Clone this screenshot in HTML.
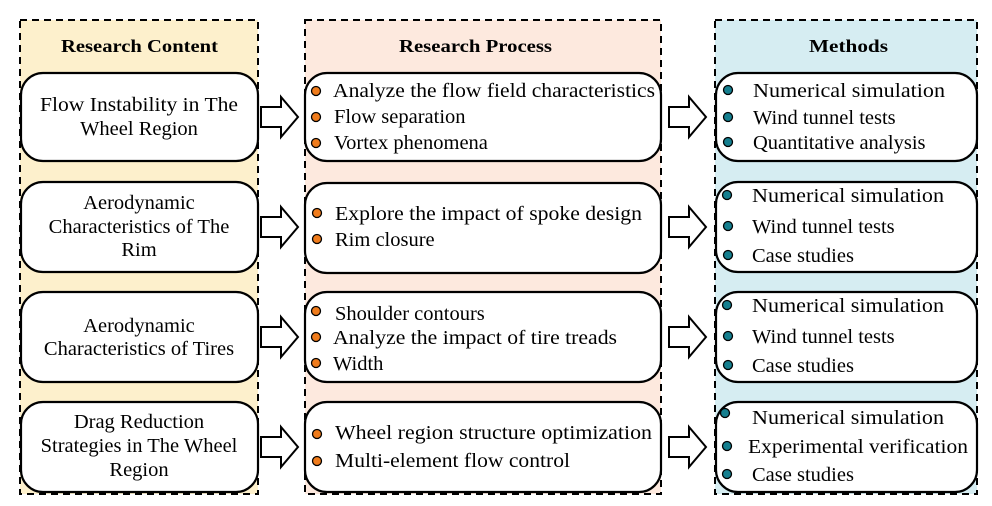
<!DOCTYPE html>
<html><head><meta charset="utf-8"><style>
html,body{margin:0;padding:0;background:#fff;}
svg{display:block}
text{font-family:"Liberation Serif",serif;font-size:20.5px;fill:#000}
.h{font-weight:bold;font-size:18px}
</style></head><body>
<svg width="992" height="506" viewBox="0 0 992 506" xmlns="http://www.w3.org/2000/svg">
<defs>
<g id="arr"><path d="M0,-10 L20,-10 L20,-20 L37,0 L20,20 L20,10 L0,10 Z" fill="#fff" stroke="#000" stroke-width="2"/></g>
</defs>
<rect x="20" y="20" width="238" height="474" fill="#fdf0cc" stroke="#000" stroke-width="2" stroke-dasharray="7,5"/>
<rect x="305" y="20" width="356" height="474" fill="#fde9de" stroke="#000" stroke-width="2" stroke-dasharray="7,5"/>
<rect x="715" y="20" width="262" height="474" fill="#d6edf2" stroke="#000" stroke-width="2" stroke-dasharray="7,5"/>
<text class="h" x="61" y="52" textLength="157" lengthAdjust="spacingAndGlyphs">Research Content</text>
<text class="h" x="399" y="52" textLength="153" lengthAdjust="spacingAndGlyphs">Research Process</text>
<text class="h" x="809" y="52" textLength="79" lengthAdjust="spacingAndGlyphs">Methods</text>
<g fill="#fff" stroke="#000" stroke-width="2.2">
<rect x="21" y="73" width="237" height="88" rx="22"/>
<rect x="21" y="182" width="237" height="90" rx="22"/>
<rect x="21" y="292" width="237" height="90" rx="22"/>
<rect x="21" y="402" width="237" height="90" rx="22"/>
<rect x="305" y="73" width="356" height="88" rx="22"/>
<rect x="305" y="183" width="356" height="90" rx="22"/>
<rect x="305" y="292" width="356" height="90" rx="22"/>
<rect x="305" y="402" width="356" height="90" rx="22"/>
<rect x="716" y="73" width="261" height="88" rx="22"/>
<rect x="716" y="182" width="261" height="90" rx="22"/>
<rect x="716" y="292" width="261" height="90" rx="22"/>
<rect x="716" y="402" width="261" height="90" rx="22"/>
</g>
<use href="#arr" x="261" y="117"/><use href="#arr" x="261" y="227"/><use href="#arr" x="261" y="337"/><use href="#arr" x="261" y="447"/>
<use href="#arr" x="669" y="117"/><use href="#arr" x="669" y="227"/><use href="#arr" x="669" y="337"/><use href="#arr" x="669" y="447"/>
<g text-anchor="middle">
<text x="139" y="111" textLength="198" lengthAdjust="spacingAndGlyphs">Flow Instability in The</text>
<text x="139" y="135">Wheel Region</text>
<text x="139" y="209">Aerodynamic</text>
<text x="139" y="233">Characteristics of The</text>
<text x="139" y="256">Rim</text>
<text x="139" y="332">Aerodynamic</text>
<text x="139" y="355">Characteristics of Tires</text>
<text x="139" y="428">Drag Reduction</text>
<text x="139" y="452">Strategies in The Wheel</text>
<text x="139" y="476">Region</text>
</g>
<g fill="#f07c1c" stroke="#000" stroke-width="1.3">
<circle cx="316" cy="91" r="4.5"/><circle cx="316" cy="117" r="4.5"/><circle cx="316" cy="143" r="4.5"/>
<circle cx="317" cy="213" r="4.5"/><circle cx="317" cy="239" r="4.5"/>
<circle cx="316" cy="311" r="4.5"/><circle cx="316" cy="337" r="4.5"/><circle cx="316" cy="363" r="4.5"/>
<circle cx="317" cy="434" r="4.5"/><circle cx="317" cy="461" r="4.5"/>
</g>
<text x="333" y="97" textLength="322" lengthAdjust="spacingAndGlyphs">Analyze the flow field characteristics</text>
<text x="334" y="123">Flow separation</text>
<text x="334" y="149">Vortex phenomena</text>
<text x="335" y="220" textLength="307" lengthAdjust="spacingAndGlyphs">Explore the impact of spoke design</text>
<text x="335" y="246">Rim closure</text>
<text x="335" y="320">Shoulder contours</text>
<text x="333" y="344" textLength="284" lengthAdjust="spacingAndGlyphs">Analyze the impact of tire treads</text>
<text x="333" y="370">Width</text>
<text x="335" y="439" textLength="317" lengthAdjust="spacingAndGlyphs">Wheel region structure optimization</text>
<text x="335" y="467" textLength="235" lengthAdjust="spacingAndGlyphs">Multi-element flow control</text>
<g fill="#157f8f" stroke="#000" stroke-width="1.3">
<circle cx="728" cy="90" r="4.5"/><circle cx="728" cy="117" r="4.5"/><circle cx="728" cy="142" r="4.5"/>
<circle cx="727" cy="195" r="4.5"/><circle cx="728" cy="226" r="4.5"/><circle cx="728" cy="255" r="4.5"/>
<circle cx="727" cy="305" r="4.5"/><circle cx="728" cy="336" r="4.5"/><circle cx="728" cy="365" r="4.5"/>
<circle cx="725" cy="413" r="4.5"/><circle cx="727" cy="446" r="4.5"/><circle cx="727" cy="474" r="4.5"/>
</g>
<text x="753" y="97" textLength="192" lengthAdjust="spacingAndGlyphs">Numerical simulation</text>
<text x="753" y="124">Wind tunnel tests</text>
<text x="753" y="149">Quantitative analysis</text>
<text x="752" y="202" textLength="192" lengthAdjust="spacingAndGlyphs">Numerical simulation</text>
<text x="752" y="233">Wind tunnel tests</text>
<text x="752" y="262">Case studies</text>
<text x="752" y="312" textLength="192" lengthAdjust="spacingAndGlyphs">Numerical simulation</text>
<text x="752" y="343">Wind tunnel tests</text>
<text x="752" y="372">Case studies</text>
<text x="752" y="424" textLength="192" lengthAdjust="spacingAndGlyphs">Numerical simulation</text>
<text x="748" y="453" textLength="220" lengthAdjust="spacingAndGlyphs">Experimental verification</text>
<text x="752" y="481">Case studies</text>
</svg>
</body></html>
